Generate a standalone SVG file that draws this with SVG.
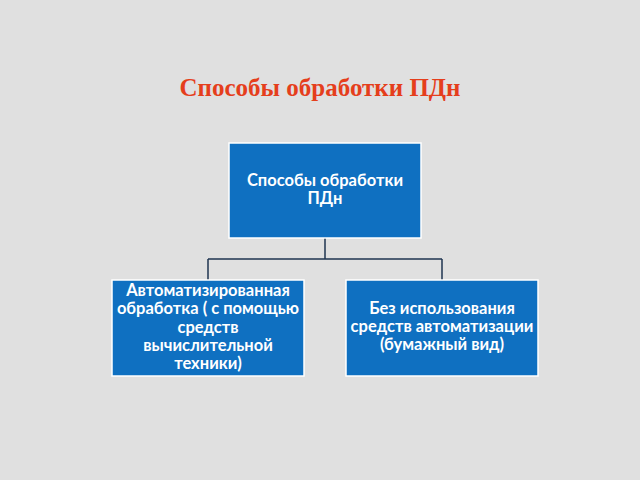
<svg xmlns="http://www.w3.org/2000/svg" width="640" height="480" viewBox="0 0 640 480">
<style>
.box{fill:#0f70c1;stroke:#ffffff;stroke-width:1.5}
.t{font-family:Lato,"Open Sans","Noto Sans",sans-serif;font-size:16.5px;font-weight:bold;fill:#ffffff;text-anchor:middle}
.c{fill:none;stroke:#1f3550;stroke-width:1.5}
</style>
<rect width="640" height="480" fill="#e0e0e0"/>
<text x="320" y="96" font-family="'Liberation Serif',serif" font-weight="bold" font-size="25" fill="#e53e1c" text-anchor="middle">Способы обработки ПДн</text>
<g id="connectors">
<path class="c" d="M325 238 V259 M208 259 H442 M208 259 V280 M442 259 V280"/>
</g>
<g id="root">
<rect class="box" x="229" y="143" width="192" height="95"/>
<text class="t" x="325" y="185.5">Способы обработки</text>
<text class="t" x="325" y="204">ПДн</text>
</g>
<g id="auto">
<rect class="box" x="112" y="280" width="192" height="96"/>
<text class="t" x="208" y="296">Автоматизированная</text>
<text class="t" x="208" y="314.3">обработка ( с помощью</text>
<text class="t" x="208" y="332.6">средств</text>
<text class="t" x="208" y="350.9">вычислительной</text>
<text class="t" x="208" y="369.2">техники)</text>
</g>
<g id="manual">
<rect class="box" x="346" y="280" width="192" height="96"/>
<text class="t" x="442" y="313.6">Без использования</text>
<text class="t" x="442" y="332">средств автоматизации</text>
<text class="t" x="442" y="350.4">(бумажный вид)</text>
</g>
</svg>
